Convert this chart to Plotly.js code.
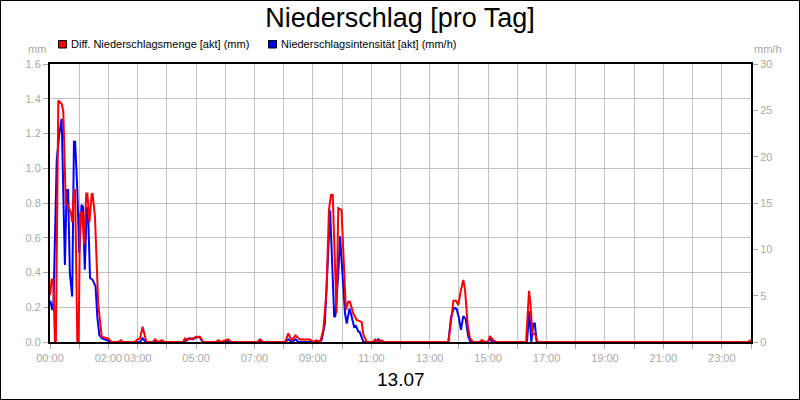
<!DOCTYPE html>
<html>
<head>
<meta charset="utf-8">
<script src="https://cdn.plot.ly/plotly-3.0.1.min.js"></script>
<style>
html,body{margin:0;padding:0;background:#fff;}
#wrap{width:798px;height:398px;border:1px solid #000;}
#chart{width:798px;height:398px;}
</style>
</head>
<body>
<div id="wrap"><div id="chart"></div></div>
<script>
// Time in hours of day 13.07
const timeMenge = [0,0.06,0.11,0.17,0.2,0.285,0.4,0.455,0.54,0.63,0.72,0.76,0.82,0.86,0.935,0.98,1.03,1.1,1.17,1.24,1.28,1.35,1.43,1.46,1.54,1.6,1.65,1.77,1.88,2.0,2.1,2.35,2.42,2.5,2.9,3.0,3.08,3.17,3.3,3.52,3.6,3.7,3.83,3.92,4.55,4.62,4.7,4.79,4.88,5.02,5.13,5.25,5.68,5.76,5.85,6.0,6.1,6.2,7.1,7.19,7.3,8.05,8.16,8.27,8.41,8.55,8.9,9.0,9.13,9.25,9.36,9.47,9.55,9.62,9.68,9.76,9.81,9.87,9.98,10.04,10.13,10.21,10.27,10.38,10.5,10.6,10.67,10.73,10.85,11.05,11.13,11.22,11.35,11.45,13.64,13.75,13.81,13.90,13.98,14.07,14.15,14.21,14.3,14.38,14.49,14.7,14.78,14.9,15.0,15.06,15.18,15.29,16.3,16.4,16.45,16.51,16.6,16.7,23.9,24];
const mengeMm = [0.27,0.36,0.36,0,0,1.39,1.37,1.33,0.80,0.78,0.74,0.69,0.875,0.875,0,0,0.74,0.75,0.56,0.855,0.855,0.69,0.855,0.85,0.72,0.47,0.22,0.03,0.025,0.02,0,0,0.01,0,0,0.015,0.02,0.088,0,0,0.015,0,0.01,0,0,0.02,0.01,0.02,0.02,0.03,0.03,0,0,0.01,0,0.01,0.015,0,0,0.015,0,0,0.05,0.01,0.038,0.015,0.015,0,0.01,0,0.07,0.30,0.76,0.846,0.846,0.43,0.167,0.77,0.76,0.53,0.184,0.232,0.232,0.165,0.127,0.12,0.115,0.04,0,0,0.015,0,0.01,0,0,0.146,0.238,0.238,0.213,0.30,0.357,0.30,0.098,0.02,0,0,0.01,0,0,0.034,0.01,0,0,0.295,0.22,0.05,0.045,0,0,0.012];

const timeIntens = [0,0.02,0.08,0.12,0.23,0.32,0.4,0.46,0.51,0.57,0.62,0.68,0.76,0.82,0.86,0.94,1.0,1.08,1.13,1.19,1.26,1.3,1.37,1.46,1.56,1.62,1.69,1.77,1.95,2.1,3.08,3.17,3.28,4.6,4.75,4.88,5.02,5.13,5.22,8.05,8.16,8.27,8.41,8.5,9.2,9.3,9.41,9.53,9.59,9.66,9.73,9.77,9.87,9.93,10.0,10.1,10.16,10.25,10.3,10.41,10.47,10.56,10.6,10.73,11.15,11.24,11.32,13.64,13.73,13.83,13.92,14.0,14.07,14.15,14.23,14.32,14.38,14.45,14.98,15.06,15.14,16.33,16.41,16.48,16.55,16.6,16.66,24];
const intensMmh = [4.4,4.35,3.45,4.3,19.6,22.5,24.1,16.4,8.3,16.4,16.4,7.4,4.9,21.6,21.6,16,9.6,14.8,14.6,7.8,14.5,14.5,6.9,6.7,6.0,2.7,0.75,0.4,0.2,0,0,0.4,0,0,0.4,0.3,0.5,0.5,0,0,0.3,0,0.3,0,0,0.2,2.0,9.6,14.2,8.5,2.7,2.8,7.4,11.4,7.4,3.1,2.0,3.6,3.1,1.65,1.75,1.1,1.1,0,0,0.3,0,0,2.7,3.7,3.6,2.6,1.3,2.8,2.5,0.6,0.1,0,0,0.4,0,0,3.3,0,2.0,2.0,0,0];

const hourTicks = [0,1,2,3,4,5,6,7,8,9,10,11,12,13,14,15,16,17,18,19,20,21,22,23,24];
const hourLabels = ['00:00','','02:00','03:00','','05:00','','07:00','','09:00','','11:00','','13:00','','15:00','','17:00','','19:00','','21:00','','23:00',''];

const seriesNames = ['Diff. Niederschlagsmenge [akt] (mm)','Niederschlagsintensität [akt] (mm/h)'];
const seriesColors = ['#ff0000','#0000ff'];

const FONT = 'Liberation Sans, Arial, sans-serif';
const GRAY = '#a8a8a8';

// intensity on the base axis (right side), amount on the overlaying axis (left side) so red draws on top
const traces = [
  {x: timeIntens, y: intensMmh, yaxis: 'y', type: 'scatter', mode: 'lines',
   name: seriesNames[1], line: {color: seriesColors[1], width: 2}},
  {x: timeMenge, y: mengeMm, yaxis: 'y2', type: 'scatter', mode: 'lines',
   name: seriesNames[0], line: {color: seriesColors[0], width: 2}}
];

// legend drawn manually (square markers)
const W = 701, H = 278, L = 49, T = 63;
function px(x){return (x - L)/W;}
function py(y){return (T + H - y)/H;}
const shapes = [
  {type:'rect', xref:'paper', yref:'paper', x0:px(57.5), x1:px(65.5), y0:py(47), y1:py(39.5),
   fillcolor:seriesColors[0], line:{color:'#000', width:1}},
  {type:'rect', xref:'paper', yref:'paper', x0:px(267.5), x1:px(275.5), y0:py(47), y1:py(39.5),
   fillcolor:seriesColors[1], line:{color:'#000', width:1}}
];
const annotations = [
  {xref:'paper', yref:'paper', x:px(68), y:py(43), xanchor:'left', yanchor:'middle', showarrow:false,
   text:seriesNames[0], font:{family:FONT, size:11, color:'#000'}},
  {xref:'paper', yref:'paper', x:px(278), y:py(43), xanchor:'left', yanchor:'middle', showarrow:false,
   text:seriesNames[1], font:{family:FONT, size:11, color:'#000'}},
  {xref:'paper', yref:'paper', x:px(47), y:py(48), xanchor:'right', yanchor:'middle', showarrow:false,
   text:'mm', font:{family:FONT, size:11, color:GRAY}},
  {xref:'paper', yref:'paper', x:px(751), y:py(48), xanchor:'left', yanchor:'middle', showarrow:false,
   text:'mm/h', font:{family:FONT, size:11, color:GRAY}},
  {xref:'paper', yref:'paper', x:0.5, y:py(378), xanchor:'center', yanchor:'middle', showarrow:false,
   text:'13.07', font:{family:FONT, size:19, color:'#000'}}
];

const layout = {
  width: 798, height: 398,
  margin: {l: L, r: 798 - L - W, t: T, b: 398 - T - H, pad: 0},
  paper_bgcolor: '#fff', plot_bgcolor: '#fff',
  showlegend: false,
  title: {text: 'Niederschlag [pro Tag]', font: {family: FONT, size: 27, color: '#000'},
          x: 0.5, xref: 'container', xanchor: 'center', y: 1 - 17/398, yref: 'container', yanchor: 'middle'},
  xaxis: {range: [0, 24], tickmode: 'array', tickvals: hourTicks, ticktext: hourLabels, tickangle: 0,
          showgrid: true, gridcolor: '#c0c0c0', gridwidth: 1,
          ticks: 'outside', ticklen: 5, tickcolor: GRAY,
          tickfont: {family: FONT, size: 11, color: GRAY},
          showline: true, linecolor: '#000', linewidth: 2, mirror: true, zeroline: false,
          layer: 'below traces'},
  yaxis: {range: [0, 30], dtick: 5, tick0: 0, side: 'right',
          showgrid: false, ticks: 'outside', ticklen: 5, tickcolor: GRAY,
          tickfont: {family: FONT, size: 11, color: GRAY},
          showline: true, linecolor: '#000', linewidth: 2, zeroline: false},
  yaxis2: {range: [0, 1.6], dtick: 0.2, tick0: 0, tickformat: '.1f', overlaying: 'y', side: 'left',
           showgrid: true, gridcolor: '#c0c0c0', gridwidth: 1,
           ticks: 'outside', ticklen: 5, tickcolor: GRAY,
           tickfont: {family: FONT, size: 11, color: GRAY},
           showline: true, linecolor: '#000', linewidth: 2, zeroline: false},
  shapes: shapes,
  annotations: annotations
};

Plotly.newPlot('chart', traces, layout, {staticPlot: true, displayModeBar: false});
</script>
</body>
</html>
